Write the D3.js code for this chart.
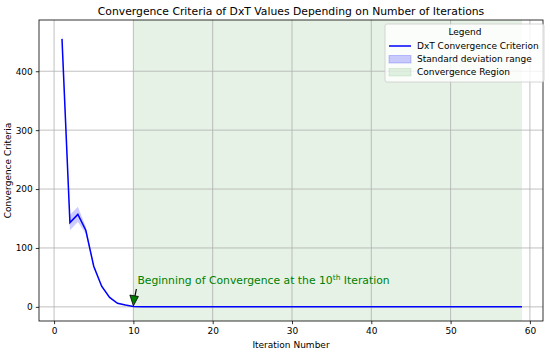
<!DOCTYPE html>
<html><head><meta charset="utf-8">
<script src="https://cdn.jsdelivr.net/npm/d3@7"></script>
<style>body{margin:0;background:#fff}svg{display:block;font-family:"DejaVu Sans",sans-serif}</style>
</head><body><svg id="c" width="550" height="354"></svg>
<script>
const iterations = d3.range(1, 60);
const criterion = [455,143,157,130,69,35,16,6,3,0.8].concat(d3.range(11,60).map(()=>0));
const stdDev = [10,13,13,6,3,2,1,0.5,0.3,0.1].concat(d3.range(11,60).map(()=>0));
const xTicks = [0,10,20,30,40,50,60];
const yTicks = [0,100,200,300,400];
const convStart = 10, convEnd = 59;
const legendLabels = ["DxT Convergence Criterion","Standard deviation range","Convergence Region"];

const svg = d3.select("#c");
const L=39, R=543, T=20, B=321;
const x = d3.scaleLinear().domain([-1.9, 61.65]).range([L,R]);
const y = d3.scaleLinear().domain([-24, 487]).range([B,T]);
const data = iterations.map((it,i)=>({x:it,y:criterion[i],s:stdDev[i]}));

svg.append("rect").attr("x",x(convStart)).attr("y",T).attr("width",x(convEnd)-x(convStart)).attr("height",B-T)
  .attr("fill","green").attr("fill-opacity",0.1);

const g = svg.append("g");
g.selectAll(".gx").data(xTicks).join("line").attr("x1",d=>x(d)).attr("x2",d=>x(d)).attr("y1",T).attr("y2",B)
  .attr("stroke","#b0b0b0").attr("stroke-width",0.8);
g.selectAll(".gy").data(yTicks).join("line").attr("y1",d=>y(d)).attr("y2",d=>y(d)).attr("x1",L).attr("x2",R)
  .attr("stroke","#b0b0b0").attr("stroke-width",0.8);

svg.append("path").datum(data).attr("d",d3.area().x(d=>x(d.x)).y0(d=>y(d.y-d.s)).y1(d=>y(d.y+d.s)))
  .attr("fill","blue").attr("fill-opacity",0.2);
svg.append("path").datum(data).attr("d",d3.line().x(d=>x(d.x)).y(d=>y(d.y)))
  .attr("fill","none").attr("stroke","blue").attr("stroke-width",1.5);

const xa = svg.append("g").attr("transform",`translate(0,${B})`).call(d3.axisBottom(x).tickValues(xTicks).tickSize(3.2).tickPadding(3));
const ya = svg.append("g").attr("transform",`translate(${L},0)`).call(d3.axisLeft(y).tickValues(yTicks).tickSize(3.2).tickPadding(3));
[xa,ya].forEach(a=>{a.select(".domain").remove();a.selectAll("text").attr("font-size",9).attr("fill","#000").attr("font-family","DejaVu Sans");a.selectAll("line").attr("stroke","#000").attr("stroke-width",0.8);});
svg.append("rect").attr("x",L).attr("y",T).attr("width",R-L).attr("height",B-T).attr("fill","none").attr("stroke","#000").attr("stroke-width",0.8);

svg.append("text").attr("x",(L+R)/2).attr("y",14.5).attr("text-anchor","middle").attr("font-size",10.8).text("Convergence Criteria of DxT Values Depending on Number of Iterations");
svg.append("text").attr("x",(L+R)/2).attr("y",348).attr("text-anchor","middle").attr("font-size",9).text("Iteration Number");
svg.append("text").attr("transform",`translate(11,${(T+B)/2}) rotate(-90)`).attr("text-anchor","middle").attr("font-size",9).text("Convergence Criteria");

const ann = svg.append("text").attr("x",x(10)+4).attr("y",284).attr("font-size",10.8).attr("fill","green");
ann.append("tspan").text("Beginning of Convergence at the 10");
ann.append("tspan").attr("font-size",7.5).attr("dy",-4.5).text("th");
ann.append("tspan").attr("dy",4.5).text(" Iteration");
const tipX = x(10), tipY = y(0)-1;
svg.append("line").attr("x1",tipX+3).attr("y1",289).attr("x2",tipX+1.6).attr("y2",296).attr("stroke","#000").attr("stroke-width",1.2);
svg.append("path").attr("d",`M${tipX-3.5},${295} L${tipX+5},${296.5} L${tipX},${tipY} Z`).attr("fill","green").attr("stroke","#000").attr("stroke-width",0.8);

const lg = svg.append("g").attr("transform","translate(385,24)");
lg.append("rect").attr("width",159).attr("height",58).attr("rx",2).attr("fill","#fff").attr("fill-opacity",0.8).attr("stroke","#ccc").attr("stroke-width",0.8);
lg.append("text").attr("x",80).attr("y",11).attr("text-anchor","middle").attr("font-size",9).text("Legend");
legendLabels.forEach((t,i)=>{
  const yy = 22 + i*13;
  if(i===0) lg.append("line").attr("x1",4).attr("x2",26).attr("y1",yy).attr("y2",yy).attr("stroke","blue").attr("stroke-width",1.5);
  else lg.append("rect").attr("x",4).attr("y",yy-3.5).attr("width",22).attr("height",7.5).attr("fill",i===1?"blue":"green").attr("fill-opacity",i===1?0.2:0.1).attr("stroke",i===1?"blue":"green").attr("stroke-opacity",i===1?0.2:0.1);
  lg.append("text").attr("x",32).attr("y",yy+3.2).attr("font-size",9).text(t);
});
</script></body></html>
